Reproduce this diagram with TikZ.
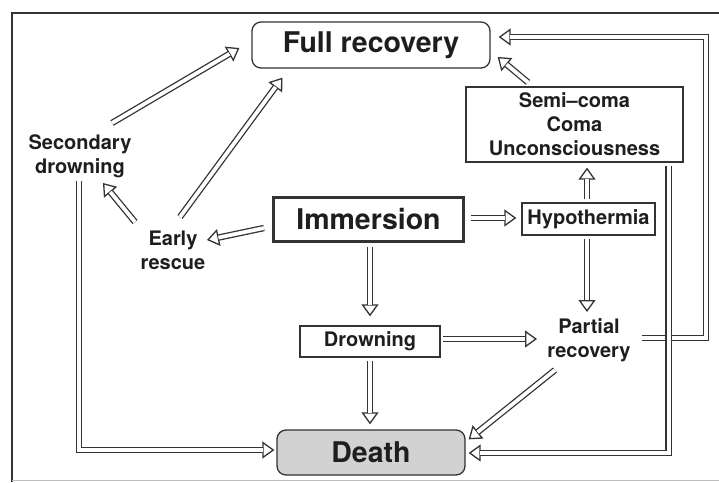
\documentclass[tikz,border=0pt]{standalone}
\usepackage{fontspec}
\setmainfont{TeX Gyre Heros}
\usetikzlibrary{arrows.meta,calc}
\definecolor{ink}{HTML}{1E1E1E}
\definecolor{linecol}{HTML}{333333}
\definecolor{deathfill}{HTML}{D2D2D2}
\begin{document}
\begin{tikzpicture}[x=1pt,y=-1pt,
  big/.style={font=\fontsize{28.5}{32}\selectfont\bfseries, text=ink},
  small/.style={font=\fontsize{20}{24}\selectfont\bfseries, text=ink, align=center},
  box/.style={draw=linecol, line width=1.3pt, inner sep=0pt},
  arr/.style={
    postaction={draw=white, line width=0.3pt,
      -{Triangle[open, length=12pt, width=17pt, line width=1.3pt, color=linecol, fill=white]}},
    postaction={draw=linecol, double=white, line width=1.3pt, double distance=3.8pt, shorten >=11.6pt}},
  frame/.style={draw=linecol, line width=2pt}
]
\useasboundingbox (0,0) rectangle (719,482);
\draw[frame] (12,482) -- (12,13) -- (719,13);
\draw[line width=1pt, draw=black!25] (12,480) -- (719,480);

\node[box, big, rounded corners=9pt, minimum width=238pt, minimum height=46pt] (full) at (371,45) {Full recovery};
\node[box, big, line width=3pt, minimum width=190pt, minimum height=44pt] (imm) at (368.5,219.5) {Immersion};
\node[box, big, rounded corners=9pt, fill=deathfill, minimum width=188pt, minimum height=45pt] (death) at (371,452.5) {Death};
\node[box, small, minimum width=217pt, minimum height=75pt] (semi) at (574.5,124.5) {Semi–coma\\Coma\\Unconsciousness};
\node[box, small, minimum width=133pt, minimum height=32pt] (hypo) at (588.5,219) {Hypothermia};
\node[box, small, minimum width=140pt, minimum height=31pt] (drown) at (370,341.5) {Drowning};
\node[small] (sec) at (80,156) {Secondary\\drowning};
\node[small] (early) at (173,250) {Early\\rescue};
\node[small] (partial) at (589,340) {Partial\\recovery};

\path[arr] ([shift={(32,-33)}]sec.center) -- ([shift={(-12,3)}]full.west);
\path[arr] ([shift={(7,-33)}]early.center) -- ([shift={(31,9)}]full.south west);
\path[arr] ([shift={(-38,-28)}]early.center) -- ([shift={(23,27)}]sec.center);
\path[arr] ([shift={(-8,8.5)}]imm.west) -- ([shift={(34,-10)}]early.center);
\path[arr] ([shift={(-1,25)}]sec.center) |- ([shift={(-2,-2.5)}]death.west);
\path[arr] ([shift={(6,-1.5)}]imm.east) -- ([shift={(-5,-1)}]hypo.west);
\path[arr] ([shift={(-1.5,-3)}]hypo.north) -- ([shift={(12.5,5)}]semi.south);
\path[arr] ([shift={(-46.5,-4)}]semi.north) -- ([shift={(7,12)}]full.east);
\path[arr] ([shift={(53,-2)}]partial.center) -- ++(64,0) |- ([shift={(8,-8)}]full.east);
\path[arr] ([shift={(-15,3)}]semi.south east) |- ([shift={(3,0.5)}]death.east);
\path[arr] ([shift={(-1.5,3)}]hypo.south) -- ([shift={(-2,-28)}]partial.center);
\path[arr] ([shift={(1.5,4)}]imm.south) -- ([shift={(0,-9)}]drown.north);
\path[arr] ([shift={(2,-2.5)}]drown.east) -- ([shift={(-52,-1)}]partial.center);
\path[arr] ([shift={(0,3)}]drown.south) -- ([shift={(-1,-5)}]death.north);
\path[arr] ([shift={(-34,30)}]partial.center) -- ([shift={(3,10)}]death.north east);
\end{tikzpicture}
\end{document}
